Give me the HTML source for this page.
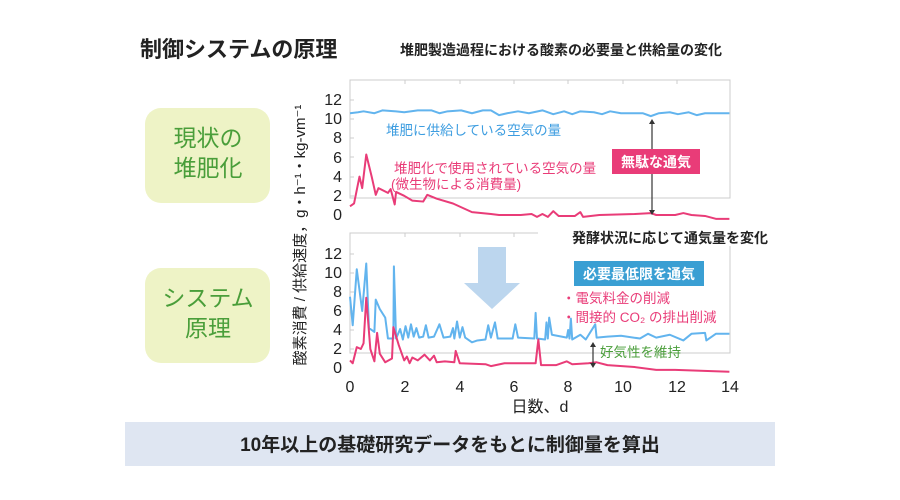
<!DOCTYPE html>
<html><head><meta charset="utf-8"><style>
body{margin:0;background:#fff}
svg{display:block;font-family:"Liberation Sans","Noto Sans CJK JP",sans-serif}
</style></head><body>
<svg width="900" height="500" viewBox="0 0 900 500">
<text x="140" y="57" font-size="22" font-weight="bold" fill="#222">制御システムの原理</text>
<text x="400" y="55" font-size="14" font-weight="bold" fill="#222">堆肥製造過程における酸素の必要量と供給量の変化</text>

<rect x="145" y="108" width="125" height="95" rx="16" fill="#eef3c6"/>
<text x="208" y="146" font-size="23" fill="#4a9e3a" text-anchor="middle">現状の</text>
<text x="208" y="176" font-size="23" fill="#4a9e3a" text-anchor="middle">堆肥化</text>
<rect x="145" y="268" width="125" height="95" rx="16" fill="#eef3c6"/>
<text x="208" y="306" font-size="23" fill="#4a9e3a" text-anchor="middle">システム</text>
<text x="208" y="336" font-size="23" fill="#4a9e3a" text-anchor="middle">原理</text>

<g stroke="#ccc" stroke-width="1" fill="none">
<rect x="350" y="80" width="380" height="118"/>
<path d="M405 80V84M460 80V84M514 80V84M568 80V84M623 80V84M677 80V84M350 100H354M350 119H354M350 138H354M350 157H354M350 177H354M350 196H354"/>
<rect x="350" y="233" width="380" height="120"/>
<path d="M405 233V237M460 233V237M514 233V237M568 233V237M623 233V237M677 233V237M350 254H354M350 273H354M350 292H354M350 311H354M350 330H354M350 349H354"/>
</g>
<g font-size="16" fill="#222" text-anchor="end">
<text x="342" y="105">12</text><text x="342" y="124">10</text><text x="342" y="143">8</text><text x="342" y="163">6</text><text x="342" y="182">4</text><text x="342" y="201">2</text><text x="342" y="220">0</text>
<text x="342" y="259">12</text><text x="342" y="278">10</text><text x="342" y="297">8</text><text x="342" y="316">6</text><text x="342" y="335">4</text><text x="342" y="354">2</text><text x="342" y="373">0</text>
</g>
<g font-size="16" fill="#222" text-anchor="middle">
<text x="350" y="392">0</text><text x="405" y="392">2</text><text x="460" y="392">4</text><text x="514" y="392">6</text><text x="568" y="392">8</text><text x="623" y="392">10</text><text x="677" y="392">12</text><text x="730" y="392">14</text>
<text x="540" y="412">日数、d</text>
</g>
<text transform="translate(305,235) rotate(-90)" font-size="15" fill="#222" text-anchor="middle">酸素消費 / 供給速度，g・h⁻¹・kg-vm⁻¹</text>

<path d="M478 247H506V283H520L492 309L464 283H478Z" fill="#bcd6ee"/>

<g fill="none" stroke-width="2" stroke-linejoin="round">
<g transform="translate(350,215) scale(27.1,-9.6)">
<path vector-effect="non-scaling-stroke" stroke="#62b4ee" d="M0 10.6L0.3 10.7 0.5 10.8 0.9 10.6 1.2 10.9 1.7 10.8 2 10.7 2.5 10.9 3 10.9 3.3 10.6 3.6 10.8 4.1 10.9 4.5 10.6 4.9 10.9 5.2 10.9 5.5 10.4 5.8 10.6 6.2 10.8 6.6 10.6 7.1 10.9 7.5 10.5 7.9 10.8 8.2 10.5 8.5 10.8 9 10.7 9.3 10.5 9.6 10.8 10 10.6 10.8 10.6 11.1 10.3 11.4 10.6 11.8 10.7 12.1 10.5 12.5 10.7 12.8 10.4 13.1 10.6 13.3 10.6 14 10.6"/>
<path vector-effect="non-scaling-stroke" stroke="#e93c78" d="M0 0.9L0.15 1.2 0.35 4 0.45 2.8 0.6 6.3 0.8 4 0.95 2.1 1.05 2.8 1.4 2.3 1.5 2.7 1.65 1.1 1.7 2.4 2 2 2.3 1.5 2.7 1.4 2.85 2.1 3.2 1.7 3.8 1.2 4.5 0.3 5.2 0.1 5.5 0 6.3 0 6.7 0.1 6.9 -0.2 7.1 0.1 7.3 -0.2 7.5 0.4 7.7 -0.1 8.3 -0.1 8.5 0.3 8.6 -0.2 9.2 0 10.5 0.1 11.1 0.2 11.3 0 12 0 12.3 0.2 12.6 0 13.1 -0.1 13.5 -0.4 14 -0.4"/>
</g>
<g transform="translate(350,368) scale(27.1,-9.5)">
<path vector-effect="non-scaling-stroke" stroke="#62b4ee" d="M0 7.5L0.1 4.5 0.25 10.4 0.45 6 0.6 11 0.7 4.2 0.9 3.8 0.95 7.2 1.1 6.2 1.3 5.3 1.4 3.1 1.6 3.1 1.62 10.7 1.7 3.1 1.85 4.1 1.95 3 2.05 4.4 2.15 3.2 2.25 4.6 2.35 3.3 2.45 4.2 2.55 3.2 2.7 3.3 2.8 4.5 2.9 3.2 3.1 3.3 3.3 4.6 3.45 3.2 3.7 3.3 3.8 4.2 3.85 3.1 3.95 4.9 4.05 3.2 4.15 4.3 4.25 3.2 4.5 2.7 4.7 2.9 5 3 5.1 4.5 5.2 3.2 5.35 4.8 5.45 3.1 6 3.1 6.1 4.6 6.2 3.2 6.8 3.1 6.85 5.8 6.9 3.1 7.2 3 7.25 4.8 7.3 3.1 7.35 5.3 7.45 3.5 8 3.2 8.05 4 8.1 3.1 8.15 5.2 8.2 3 8.5 3.5 8.7 3 9.05 4.6 9.1 3.2 9.5 3.3 10 3.4 10.7 3.1 11 3.6 11.3 3.2 11.8 3.5 12.3 2.9 12.6 3.6 13.1 3.7 13.15 2.9 13.5 3.6 14 3.6"/>
<path vector-effect="non-scaling-stroke" stroke="#e93c78" d="M0 0.8L0.1 0.5 0.25 2.2 0.4 2 0.5 2.6 0.6 7.4 0.75 2 0.9 0.7 1 3.7 1.1 1.5 1.3 0.6 1.55 1 1.6 4.3 1.8 2.4 2 0.8 2.1 1.2 2.2 0.5 2.3 1.1 2.5 0.8 2.75 1.4 2.95 0.8 3.1 1.3 3.2 0.6 3.5 0.7 3.85 0.6 3.9 1.8 4.05 0.5 5 0.4 5.2 0.2 5.7 0.5 6.85 0.5 6.95 3 7.05 0.3 7.6 0.3 8 0.7 8.2 0.4 8.8 0.5 9.1 0.6 9.5 0.3 10.5 0.1 11.3 -0.2 12 -0.2 14 -0.4"/>
</g>
</g>

<text x="386" y="135" font-size="13.5" fill="#3d9de0">堆肥に供給している空気の量</text>
<text x="394" y="173" font-size="13.5" fill="#e93c78">堆肥化で使用されている空気の量</text>
<text x="391" y="189" font-size="13.5" fill="#e93c78">(微生物による消費量)</text>
<path d="M652 122V212" stroke="#333" stroke-width="1.2"/>
<path d="M652 119l-3 5h6zM652 215l-3 -5h6z" fill="#333"/>
<rect x="612" y="149" width="88" height="25" fill="#e93c78"/>
<text x="656" y="167" font-size="14" font-weight="bold" fill="#fff" text-anchor="middle">無駄な通気</text>

<rect x="538" y="226" width="232" height="20" fill="#fff"/>
<text x="768" y="243" font-size="14" font-weight="bold" fill="#222" text-anchor="end">発酵状況に応じて通気量を変化</text>

<rect x="574" y="261" width="130" height="25" fill="#3a9fd3"/>
<text x="639" y="279" font-size="14" font-weight="bold" fill="#fff" text-anchor="middle">必要最低限を通気</text>
<text x="562" y="303" font-size="13.5" fill="#e93c78">・電気料金の削減</text>
<text x="562" y="322" font-size="13.5" fill="#e93c78">・間接的 CO₂ の排出削減</text>
<path d="M593 346V364" stroke="#333" stroke-width="1.2"/>
<path d="M593 342l-3 5h6zM593 368l-3 -5h6z" fill="#333"/>
<text x="600" y="357" font-size="13.5" fill="#4a9e3a">好気性を維持</text>

<rect x="125" y="422" width="650" height="44" fill="#dfe6f2"/>
<text x="450" y="451" font-size="19" font-weight="bold" fill="#222" text-anchor="middle">10年以上の基礎研究データをもとに制御量を算出</text>
</svg>
</body></html>
